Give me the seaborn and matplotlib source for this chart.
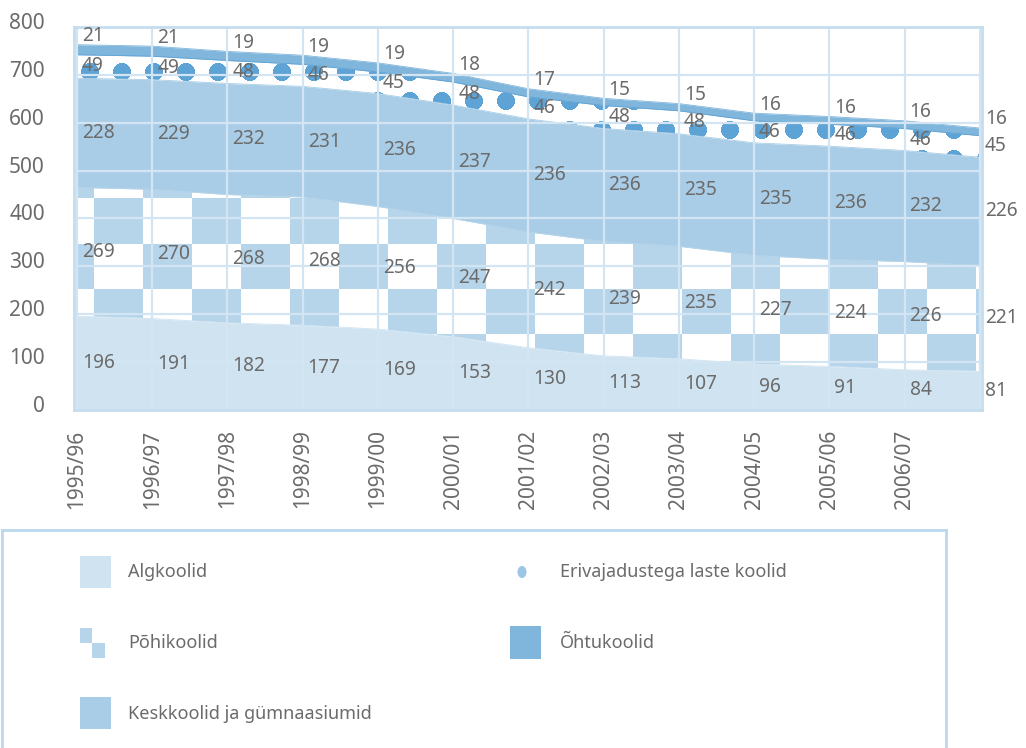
import numpy as np
import pandas as pd
import matplotlib
matplotlib.use("Agg")
import matplotlib.pyplot as plt
import seaborn as sns
from matplotlib.patches import Rectangle, Ellipse
from matplotlib.transforms import ScaledTranslation
from matplotlib.colors import to_rgb

# ---------------- data ----------------
years = ["1995/96", "1996/97", "1997/98", "1998/99", "1999/00", "2000/01",
         "2001/02", "2002/03", "2003/04", "2004/05", "2005/06", "2006/07", "2007/08"]
tick_labels = years[:12] + [""]
algkoolid = [196, 191, 182, 177, 169, 153, 130, 113, 107, 96, 91, 84, 81]
pohikoolid = [269, 270, 268, 268, 256, 247, 242, 239, 235, 227, 224, 226, 221]
keskkoolid = [228, 229, 232, 231, 236, 237, 236, 236, 235, 235, 236, 232, 226]
erivajadustega = [49, 49, 48, 46, 45, 48, 46, 48, 48, 46, 46, 46, 45]
ohtukoolid = [21, 21, 19, 19, 19, 18, 17, 15, 15, 16, 16, 16, 16]
series_names = ["Algkoolid", "Põhikoolid", "Keskkoolid ja gümnaasiumid",
                "Erivajadustega laste koolid", "Õhtukoolid"]

# ---------------- style ----------------
sns.set_theme(style="white")
plt.rcParams["font.family"] = ["Noto Sans", "DejaVu Sans"]
TXT = "#6b6b6b"
C_ALG = "#cfe3f1"
C_CHECK = "#b7d5ea"
C_KESK = "#a9cde6"
C_DOT = "#5ea3d5"
C_OHTU = "#80b5dc"
C_GRID = "#d3e5f2"
C_FRAME = "#c4ddef"

W, H = 1026, 748
fig = plt.figure(figsize=(W / 100, H / 100), dpi=100)
AX_L, AX_R, AX_T, AX_B = 74, 982, 27, 410
ax = fig.add_axes([AX_L / W, 1 - AX_B / H, (AX_R - AX_L) / W, (AX_B - AX_T) / H])
x = np.arange(len(years))
XL = (-0.04, 12.03)
YL = (0, 800)

df = pd.DataFrame({"year": years, "x": x, series_names[0]: algkoolid,
                   series_names[1]: pohikoolid, series_names[2]: keskkoolid,
                   series_names[3]: erivajadustega, series_names[4]: ohtukoolid})
vals = df[series_names].to_numpy().T
tops = np.cumsum(vals, axis=0)
bots = np.vstack([np.zeros(len(x)), tops[:-1]])

# texture images in axes-pixel space
aw, ah = AX_R - AX_L, AX_B - AX_T
XX, YY = np.meshgrid(np.arange(aw) + AX_L + 0.5, np.arange(ah) + AX_T + 0.5)
ci = np.floor((XX - 94) / 49).astype(int)
ri = np.floor((YY - 199) / 45).astype(int)
checker = (ci + ri) % 2 == 0
img_check = np.ones((ah, aw, 4))
img_check[checker, :3] = to_rgb(C_CHECK)
dx = (XX - 90) - 32 * np.round((XX - 90) / 32)
dy = (YY - 73) - 29 * np.round((YY - 73) / 29)
dots = dx ** 2 + dy ** 2 <= 81
img_dots = np.ones((ah, aw, 4))
img_dots[dots, :3] = to_rgb(C_DOT)

fills = {0: C_ALG, 1: None, 2: C_KESK, 3: None, 4: C_OHTU}
textures = {1: img_check, 3: img_dots}
for i in range(5):
    if fills[i] is not None:
        ax.fill_between(x, bots[i], tops[i], color=fills[i], lw=0, zorder=1)
    else:
        poly = ax.fill_between(x, bots[i], tops[i], facecolor="none", lw=0, zorder=1)
        im = ax.imshow(textures[i], extent=(XL[0], XL[1], YL[0], YL[1]), origin="upper",
                       aspect="auto", interpolation="nearest", zorder=1)
        im.set_clip_path(poly.get_paths()[0], ax.transData)

# thin edges along each band top via seaborn
edge_cols = [C_ALG, C_CHECK, C_KESK, C_DOT, C_OHTU]
for i in range(5):
    sns.lineplot(x=x, y=tops[i], ax=ax, color=edge_cols[i], lw=0.6, zorder=1.2)

ax.set_xlim(*XL)
ax.set_ylim(*YL)

# grid & frame
ax.set_xticks(x)
ax.set_xticklabels(tick_labels, rotation=90, ha="center", va="top")
ax.set_yticks(range(0, 801, 100))
ax.grid(True, color=C_GRID, lw=1.6)
ax.set_axisbelow(False)
for sp in ax.spines.values():
    sp.set_color(C_FRAME)
    sp.set_linewidth(2)
    sp.set_zorder(2.6)
ax.tick_params(axis="x", length=0, pad=14, labelsize=15, labelcolor=TXT)
ax.tick_params(axis="y", length=0, pad=21, labelsize=15, labelcolor=TXT)
for lab in ax.get_yticklabels():
    lab.set_transform(lab.get_transform() + ScaledTranslation(0, 0.06, fig.dpi_scale_trans))

# data labels: inside bands, the thin top band labelled just above it
off = ScaledTranslation(0.05, 0, fig.dpi_scale_trans)
for i in range(5):
    if i == 4:
        ys = tops[i] + 18
    else:
        ys = (bots[i] + tops[i]) / 2
    for xi, m, v in zip(x, ys, vals[i]):
        ax.text(xi, m, f"{v}", ha="left", va="center", fontsize=13.8, color=TXT,
                transform=ax.transData + off, clip_on=False, zorder=5)

# ---------------- legend ----------------
LX0, LX1, LY0 = 2, 946, 530
lax = fig.add_axes([LX0 / W, -0.1, (LX1 - LX0) / W, (1 - LY0 / H) + 0.1])
lax.set_xlim(LX0, LX1)
lax.set_ylim(LY0 + (1 - LY0 / H + 0.1) * H, LY0)
lax.set_xticks([])
lax.set_yticks([])
lax.set_facecolor("white")
for sp in lax.spines.values():
    sp.set_color("#b9d8ed")
    sp.set_linewidth(2)

LFS = 13
lax.add_patch(Rectangle((80, 556), 31, 32, color=C_ALG, lw=0))
lax.text(128, 572, series_names[0], fontsize=LFS, color=TXT, va="center", ha="left")
lax.add_patch(Rectangle((80, 628), 12, 15, color=C_CHECK, lw=0))
lax.add_patch(Rectangle((92, 643), 13, 15, color=C_CHECK, lw=0))
lax.text(128, 643, series_names[1], fontsize=LFS, color=TXT, va="center", ha="left")
lax.add_patch(Rectangle((80, 697), 31, 32, color=C_KESK, lw=0))
lax.text(128, 714, series_names[2], fontsize=LFS, color=TXT, va="center", ha="left")
lax.add_patch(Ellipse((522, 572), 9, 12, color="#9cc6e6", lw=0))
lax.text(560, 572, series_names[3], fontsize=LFS, color=TXT, va="center", ha="left")
lax.add_patch(Rectangle((510, 626), 31, 33, color=C_OHTU, lw=0))
lax.text(560, 643, series_names[4], fontsize=LFS, color=TXT, va="center", ha="left")

fig.savefig("out.png", dpi=100)
